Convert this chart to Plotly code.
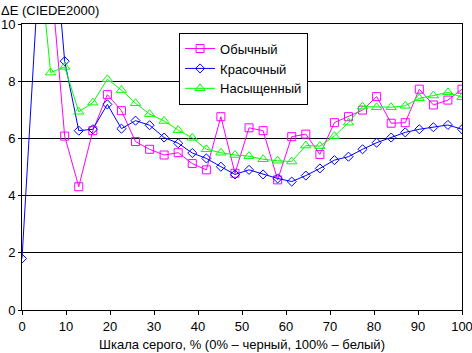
import plotly.graph_objects as go

gray_pct = [0, 3.2, 6.5, 9.7, 12.9, 16.1, 19.4, 22.6, 25.8, 29.0, 32.3, 35.5,
            38.7, 41.9, 45.2, 48.4, 51.6, 54.8, 58.1, 61.3, 64.5, 67.7, 71.0,
            74.2, 77.4, 80.6, 83.9, 87.1, 90.3, 93.5, 96.8, 100]

normal = [13.0, 15.0, 11.8, 6.08, 4.31, 6.27, 7.53, 6.97, 5.89, 5.62, 5.42, 5.50,
          5.12, 4.90, 6.76, 4.78, 6.37, 6.27, 4.55, 6.06, 6.15, 5.44, 6.55,
          6.76, 6.99, 7.46, 6.53, 6.55, 7.72, 7.17, 7.34, 7.72]

vivid = [1.8, 10.2, 14.5, 8.70, 6.27, 6.32, 7.19, 6.34, 6.62, 6.46, 6.03, 5.83,
         5.49, 5.30, 5.01, 4.74, 4.90, 4.74, 4.60, 4.49, 4.70, 4.95, 5.24,
         5.36, 5.62, 5.85, 6.03, 6.21, 6.32, 6.39, 6.47, 6.32]

saturated = [15.0, 13.5, 8.30, 8.50, 6.93, 7.25, 8.07, 7.69, 7.23, 6.85, 6.61, 6.29,
             6.02, 5.62, 5.50, 5.42, 5.38, 5.27, 5.22, 5.19, 5.75, 5.73, 6.08,
             6.55, 7.11, 7.09, 7.09, 7.14, 7.40, 7.50, 7.61, 7.44]

names = ["Обычный", "Красочный", "Насыщенный"]
colors = ["#FF00FF", "#0000FF", "#00FF00"]
symbols = ["square-open", "diamond-open", "triangle-up-open"]
sizes = [8, 7, 9]

x_ticks = [0, 10, 20, 30, 40, 50, 60, 70, 80, 90, 100]
y_ticks = [0, 2, 4, 6, 8, 10]

FONT = "Liberation Sans, Arial, sans-serif"

fig = go.Figure()
for vals, nm, col, sym, sz in zip([normal, vivid, saturated], names, colors, symbols, sizes):
    fig.add_trace(go.Scatter(
        x=gray_pct, y=vals, name=nm, mode="lines+markers",
        line=dict(color=col, width=1),
        marker=dict(symbol=sym, size=sz, color=col, line=dict(color=col, width=1)),
    ))

fig.update_layout(
    width=472, height=353,
    margin=dict(l=22, r=10, t=24, b=43),
    paper_bgcolor="white", plot_bgcolor="white",
    font=dict(family=FONT, size=13, color="black"),
    showlegend=True,
    legend=dict(
        x=0.357, y=0.97, xanchor="left", yanchor="top",
        bgcolor="white", bordercolor="black", borderwidth=1,
        font=dict(family=FONT, size=13, color="black"),
        tracegroupgap=0, itemwidth=30,
    ),
    annotations=[dict(
        text="ΔE (CIEDE2000)", xref="paper", yref="paper",
        x=0, y=1, xanchor="left", yanchor="middle",
        xshift=-23, yshift=14, showarrow=False,
        font=dict(family=FONT, size=13, color="black"),
    )],
)

fig.update_xaxes(
    range=[0, 100], tickvals=x_ticks, ticktext=[str(v) for v in x_ticks],
    showgrid=False, zeroline=False, automargin=False, ticklabeloverflow="allow",
    showline=True, linecolor="black", linewidth=1, mirror=True,
    ticks="outside", ticklen=4, tickcolor="black",
    title=dict(text="Шкала серого, % (0% – черный, 100% – белый)",
               font=dict(family=FONT, size=13, color="black"), standoff=7),
    tickfont=dict(family=FONT, size=13, color="black"),
)
fig.update_yaxes(
    range=[0, 10], tickvals=y_ticks, ticktext=[str(v) for v in y_ticks],
    showgrid=True, gridcolor="black", gridwidth=1, zeroline=False, automargin=False,
    showline=True, linecolor="black", linewidth=1, mirror=True,
    ticks="outside", ticklen=3, tickcolor="black",
    tickfont=dict(family=FONT, size=13, color="black"),
)

fig.write_html("out.html")
